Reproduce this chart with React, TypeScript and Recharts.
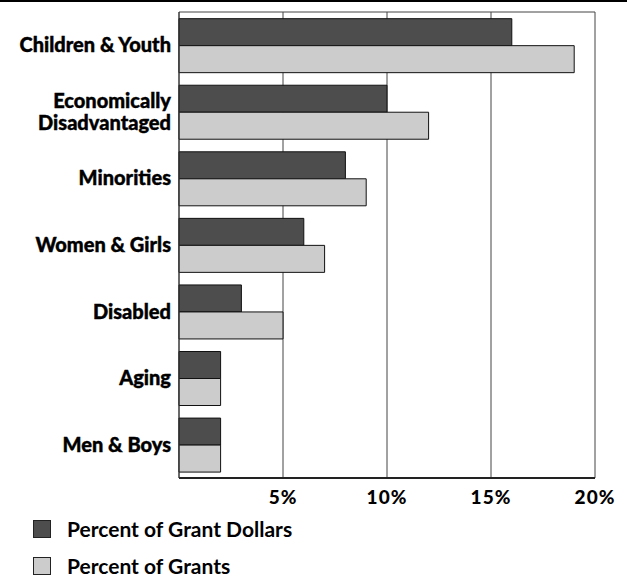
import React from 'react';
import { BarChart, Bar, XAxis, YAxis, CartesianGrid } from 'recharts';

// ── Data ─────────────────────────────────────────────────────────────────────
const CATEGORIES = [
  'Children & Youth',
  'Economically Disadvantaged',
  'Minorities',
  'Women & Girls',
  'Disabled',
  'Aging',
  'Men & Boys',
];
const GRANT_DOLLARS = [16, 10, 8, 6, 3, 2, 2];
const GRANTS = [19, 12, 9, 7, 5, 2, 2];
const X_TICKS = [5, 10, 15, 20];
const SERIES_NAMES = ['Percent of Grant Dollars', 'Percent of Grants'];

const DARK = '#4d4d4d';
const LIGHT = '#cccccc';
const FONT = 'Lato, "Open Sans", sans-serif';

const data = CATEGORIES.map((name, i) => ({
  name,
  dollars: GRANT_DOLLARS[i],
  grants: GRANTS[i],
}));

// multi-line labels for the long category
const LABEL_LINES: Record<string, string[]> = {
  'Economically Disadvantaged': ['Economically', 'Disadvantaged'],
};

function CategoryTick(props: any) {
  const { x, y, payload } = props;
  const lines = LABEL_LINES[payload.value] ?? [payload.value];
  const lh = 22;
  const start = -((lines.length - 1) * lh) / 2;
  return (
    <text x={x} y={y} textAnchor="end" fill="#000" fontFamily={FONT} fontWeight={900} fontSize={20}
      stroke="#000" strokeWidth={0.4}>
      {lines.map((l, i) => (
        <tspan key={i} x={x} y={y + start + i * lh} dy="0.35em">{l}</tspan>
      ))}
    </text>
  );
}

function ChartLegend() {
  const colors = [DARK, LIGHT];
  return (
    <div style={{ position: 'absolute', left: 33, top: 510, fontFamily: FONT, fontWeight: 700, fontSize: 21, color: '#000' }}>
      {SERIES_NAMES.map((n, i) => (
        <div key={n} style={{ display: 'flex', alignItems: 'center', height: 37 }}>
          <span style={{
            display: 'inline-block', width: 16, height: 16, background: colors[i],
            border: '1px solid #222', marginRight: 16,
          }} />
          {n}
        </div>
      ))}
    </div>
  );
}

export default function App() {
  return (
    <div style={{ position: 'absolute', left: 0, top: 0, width: 627, height: 578, background: '#fff' }}>
      <div style={{ position: 'absolute', left: 0, top: 0, width: 627, height: 2, background: '#000' }} />
      <BarChart
        width={627}
        height={578}
        data={data}
        layout="vertical"
        margin={{ top: 12, right: 32, left: 0, bottom: 70 }}
        barCategoryGap="10%"
        barGap={0}
      >
        <CartesianGrid horizontal={false} stroke="#444" strokeWidth={1} />
        <CartesianGrid vertical={false} horizontalPoints={[12]} stroke="#444" strokeWidth={1} />
        <XAxis
          type="number"
          domain={[0, 20]}
          ticks={X_TICKS}
          tickFormatter={(v: number) => `${v}%`}
          axisLine={{ stroke: '#222', strokeWidth: 2 }}
          tickLine={false}
          tickMargin={7}
          height={30}
          tick={{ fill: '#000', fontFamily: FONT, fontWeight: 900, fontSize: 19, letterSpacing: 1 }}
        />
        <YAxis
          type="category"
          dataKey="name"
          width={179}
          axisLine={{ stroke: '#333', strokeWidth: 1 }}
          tickLine={false}
          tick={<CategoryTick />}
          interval={0}
        />
        <Bar dataKey="dollars" name={SERIES_NAMES[0]} fill={DARK} stroke="#111" strokeWidth={1} isAnimationActive={false} />
        <Bar dataKey="grants" name={SERIES_NAMES[1]} fill={LIGHT} stroke="#111" strokeWidth={1} isAnimationActive={false} />
      </BarChart>
      <ChartLegend />
    </div>
  );
}
